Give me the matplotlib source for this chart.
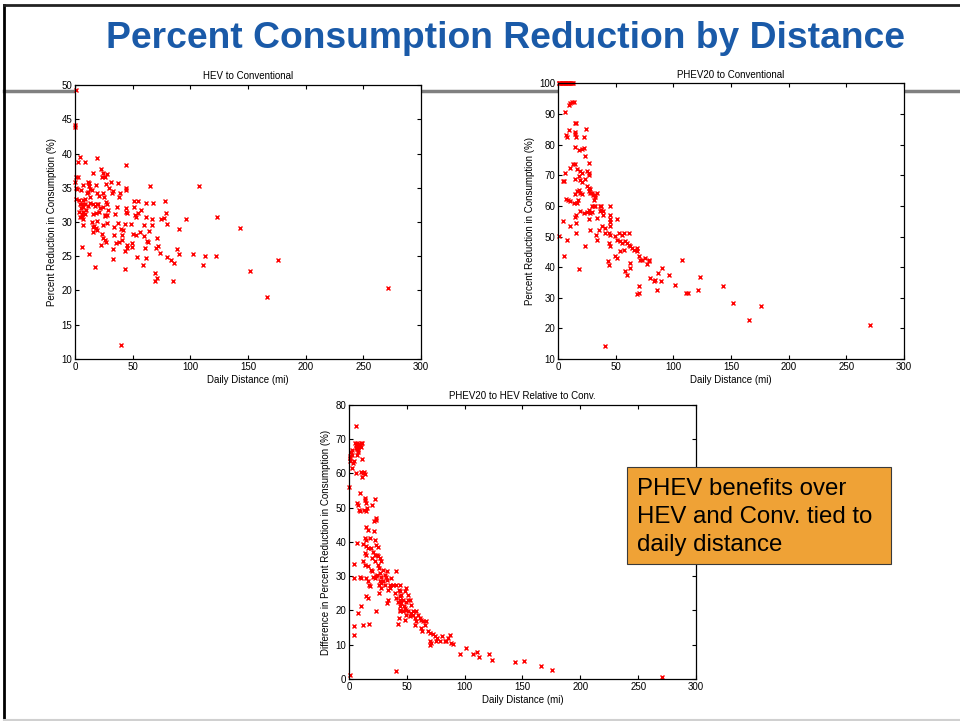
import matplotlib
matplotlib.use('Agg')
import matplotlib.pyplot as plt
from matplotlib.lines import Line2D
from matplotlib.patches import Rectangle

plt.rcParams['font.family'] = ['Liberation Sans', 'DejaVu Sans']

# HEV to Conventional (daily distance in mi, reduction in %)
hev_dist = [0.6, 0, 0, 0.9, 2.3, 0, 0.9, 2.0, 0.9, 2.9, 4.3, 4.9, 3.8, 4.3, 4.9, 3.8, 5.8, 4.3, 5.8, 6.6,
            6.6, 6.1, 7.2, 7.2, 7.2, 6.1, 7.2, 8.7, 8.7, 8.7, 9.5, 8.7, 10.1,
            11.8, 11.6, 12.4, 13.0, 11.6, 13.0, 13.0, 11.6, 14.5, 12.4, 15.3, 15.9, 15.3, 14.5, 15.3, 15.9,
            16.5, 17.3, 18.8, 18.2, 18.8, 18.8, 17.3, 18.2, 18.8, 18.2, 19.4,
            20.2, 21.1, 21.7, 21.1, 22.5, 23.1, 22.5, 23.4, 24.6, 24.6, 25.1, 24.6, 26.0, 26.0, 24.0, 24.6,
            26.0, 26.3, 26.6, 27.5, 26.9, 27.5, 27.5, 26.9, 27.5, 28.9, 29.8,
            30.9, 31.8, 32.7, 32.7, 33.2, 33.8, 33.8, 34.7, 35.5, 36.1, 37.3, 37.6, 37.9, 38.4, 39.0, 40.2,
            39.6, 40.5,
            41.0, 41.9, 43.4, 43.4, 44.2, 44.2, 44.2, 44.2, 44.2, 43.4, 45.4, 44.8, 45.4, 48.3, 49.1, 49.7, 50.6,
            51.2, 51.4, 52.0, 52.9, 52.9, 53.5, 54.3, 54.9, 56.4, 57.5, 58.7, 59.8, 59.8, 60.7, 61.6, 61.6,
            61.6, 62.1, 63.6, 65.0, 64.4, 66.5, 66.8, 67.9, 69.4, 70.2, 69.4,
            70.8, 70.8, 72.3, 73.7, 74.9, 77.2, 78.3, 78.9, 79.5, 79.5, 82.9, 85.3, 85.8, 88.1, 90.5, 90.5,
            96.2, 102.0, 107.5, 110.7, 113.0, 122.0, 123.1, 143.3, 151.4, 166.2, 175.7, 271.1]
hev_red = [49.2, 44.1, 43.8, 36.6, 36.6, 35.9, 35.0, 34.8, 33.3, 38.7, 39.5, 34.6, 33.2, 32.6, 32.1, 31.5, 31.1, 30.8, 30.8, 30.5,
           31.5, 32.7, 33.2, 32.2, 29.6, 26.3, 35.4, 38.7, 33.3, 32.7, 31.8, 31.2, 34.2,
           25.4, 35.9, 35.3, 34.8, 34.4, 33.7, 32.8, 32.3, 34.6, 35.7, 37.1, 32.7, 31.2, 30.0, 29.3, 28.6,
           29.4, 23.5, 39.3, 35.4, 34.2, 32.7, 32.3, 31.3, 30.1, 29.1, 28.8,
           32.7, 33.8, 32.0, 31.5, 37.8, 28.2, 26.6, 36.6, 37.2, 34.2, 33.7, 32.2, 30.9, 31.0, 29.6, 27.7,
           27.4, 36.5, 35.5, 37.0, 32.9, 32.7, 31.0, 27.1, 29.8, 31.8, 34.9,
           35.8, 34.2, 34.5, 26.0, 24.6, 28.1, 29.3, 31.1, 26.9, 32.2, 35.7, 29.9, 33.7, 27.1, 34.2, 12.0,
           29.0, 27.4,
           28.1, 28.9, 25.7, 23.1, 38.3, 34.9, 34.6, 32.0, 31.4, 29.7, 31.3, 26.2, 26.6, 29.7, 27.0, 26.4, 28.3,
           33.0, 32.2, 31.0, 30.8, 28.1, 24.9, 33.0, 31.3, 28.6, 31.8, 23.7, 29.6, 27.9, 26.2, 32.8, 30.7,
           24.7, 27.2, 27.1, 35.2, 28.7, 29.6, 30.5, 32.8, 22.5, 26.2, 21.4,
           27.6, 21.8, 26.5, 25.5, 30.4, 30.6, 33.1, 31.3, 29.7, 24.9, 24.5, 21.4, 24.0, 26.0, 29.0, 25.4,
           30.5, 25.4, 35.2, 23.7, 25.1, 25.1, 30.8, 29.1, 22.9, 19.1, 24.4, 20.3]

# PHEV20 to Conventional
phev_dist = [0.4, 1.1, 1.8, 2.4, 3.2, 3.9, 4.6, 5.3, 6.1, 6.8, 7.5, 8.3, 9.0, 9.7, 10.5, 11.2, 12.0, 12.8,
             0.6, 4.9, 4.3, 4.3, 5.8, 9.8, 10.7, 12.1, 13.6, 6.9, 7.8, 9.8, 14.4, 15.9, 14.4, 15.0, 15.9, 22.2,
             24.2, 15.0, 17.9, 20.8, 22.2, 23.7, 26.5, 10.7, 12.7, 14.4, 16.4, 19.3, 20.8, 17.9, 25.1, 26.5,
             27.1, 15.0, 19.3, 20.8, 23.7, 16.4, 17.9, 19.3, 20.8, 25.1, 26.5, 28.0, 26.5, 28.0, 29.4, 30.0,
             31.7, 33.8, 30.9, 29.4, 30.9, 32.3, 28.0, 26.5, 25.1, 29.4, 32.3, 36.6, 37.5, 38.7, 38.7, 36.6,
             37.5, 33.8, 35.2, 32.9, 33.8, 38.1, 40.4, 41.0, 45.3, 45.3, 45.3, 45.3, 44.7, 43.9, 45.3, 44.4,
             45.3, 43.3, 43.9, 51.1, 49.6, 51.1, 52.5, 55.4, 56.8, 54.0, 55.4, 58.3, 59.7, 49.6, 51.1, 54.0,
             56.8, 61.2, 61.2, 62.6, 64.0, 65.5, 68.4, 62.6, 58.3, 59.7, 69.8, 71.3, 72.7, 75.6, 78.5, 79.0,
             77.0, 68.4, 62.6, 69.8, 70.4, 68.4, 79.9, 82.8, 84.2, 85.7, 87.1, 90.0, 89.4, 95.8, 101.6, 107.3,
             110.8, 112.5, 121.7, 123.2, 143.4, 151.5, 165.9, 175.7, 270.9, 41.0, 7.8, 10.7, 6.3, 4.9, 10.7,
             8.7, 6.9, 15.6, 15.0, 15.9, 15.6, 17.9, 13.6, 16.4, 17.3, 15.0, 19.3, 22.2, 23.1, 26.5, 28.0]
phev_red = [100, 100, 100, 100, 100, 100, 100, 100, 100, 100, 100, 100, 100, 100, 100, 100, 100, 100,
            50.3, 43.5, 55.2, 68.1, 90.7, 92.9, 93.6, 93.8, 94.0, 83.1, 82.6, 84.7, 87.0, 87.0, 84.2, 83.4, 82.6, 82.5,
            85.0, 79.4, 78.3, 78.7, 79.0, 76.3, 73.9, 72.5, 73.8, 73.8, 72.1, 71.4, 70.8, 69.7, 71.4, 70.6,
            70.2, 68.7, 68.4, 67.8, 68.7, 65.0, 65.2, 64.3, 64.0, 66.5, 65.9, 65.4, 64.8, 64.3, 64.3, 63.7,
            63.7, 64.1, 62.1, 59.9, 60.1, 59.9, 57.7, 58.6, 58.0, 58.0, 63.0, 59.9, 58.8, 58.3, 57.2, 58.3,
            60.1, 56.1, 52.1, 50.5, 49.0, 53.4, 52.8, 51.2, 59.9, 56.9, 55.8, 54.7, 53.4, 51.2, 50.6, 47.9,
            46.8, 41.9, 40.8, 55.8, 50.3, 49.0, 51.2, 50.6, 51.2, 48.4, 47.9, 48.4, 47.9, 43.5, 43.0, 45.2,
            45.7, 51.2, 47.4, 46.8, 46.3, 45.7, 46.3, 41.3, 38.6, 37.5, 43.5, 42.4, 42.4, 43.0, 42.4, 41.9,
            41.1, 45.2, 39.7, 33.7, 31.5, 31.2, 36.4, 35.6, 35.9, 32.6, 38.1, 39.7, 35.6, 37.5, 34.3, 42.4,
            31.5, 31.5, 32.6, 36.7, 34.0, 28.2, 22.8, 27.2, 21.1, 14.3, 49.0, 53.4, 70.8, 68.1, 61.6,
            61.8, 62.3, 56.9, 56.4, 54.5, 51.2, 39.5, 61.0, 61.0, 62.1, 64.0, 58.3, 57.7, 46.8, 55.8, 52.3]

# PHEV20 to HEV relative to Conv.
diff_dist = [0.6, 0, 0.6, 0.6, 1.2, 2.0, 2.6, 2.9, 2.6, 3.5, 4.0, 4.9, 5.8, 6.4, 6.9, 7.8, 5.8, 6.9, 7.8, 8.7,
             9.2, 10.1, 10.7, 11.3, 6.4, 7.8, 6.9, 11.5, 10.7, 12.1, 12.7, 13.6, 11.3, 4.0, 4.3, 4.0, 4.0, 6.9,
             9.2, 9.8, 10.7, 10.1, 7.8, 6.9, 7.8, 8.7, 9.8, 12.1, 12.7, 13.6, 13.9, 14.4, 15.0, 15.9, 14.4,
             16.5, 13.6, 15.0, 17.9, 12.1, 14.4, 16.5, 13.6, 15.0, 12.1, 13.6, 16.5, 15.0, 16.5, 17.3, 18.5,
             15.0, 16.5, 17.3, 20.2, 21.4, 23.1, 23.7, 22.2, 21.4, 22.2, 19.3, 20.8, 22.2, 23.7, 25.1, 24.3,
             25.1, 20.2, 22.2, 19.3, 20.2, 20.8, 23.1, 22.2, 24.3, 25.1, 26.0, 26.6, 28.0, 26.6, 28.0, 26.0,
             28.0, 26.0, 23.1, 27.1, 28.0, 29.4, 30.9, 32.3, 29.4, 30.9, 32.9, 32.9, 33.8, 35.2, 35.2, 32.9,
             33.8, 36.7, 38.1, 39.6, 41.0, 42.4, 40.4, 41.0, 43.3, 44.5, 45.3, 46.8, 47.3, 49.1, 49.7, 48.2,
             51.1, 52.5, 54.0, 55.4, 41.0, 42.4, 43.3, 43.9, 43.9, 44.5, 43.9, 44.7, 44.5, 43.9, 46.8, 48.2,
             49.7, 51.1, 48.2, 49.7, 51.1, 52.5, 54.0, 55.4, 56.9, 58.3, 56.9, 58.3, 59.8, 61.2, 62.6, 62.6,
             63.5, 64.1, 65.5, 67.0, 68.4, 69.9, 70.4, 71.3, 69.9, 72.8, 74.2, 75.1, 76.2, 78.5, 80.0, 82.9,
             84.3, 85.7, 87.2, 88.6, 90.1, 95.8, 101.6, 107.4, 110.3, 112.6, 121.3, 123.3, 143.5, 151.3,
             165.7, 175.8, 270.5]
diff_red = [1.3, 56.1, 64.6, 63.5, 65.2, 66.4, 65.4, 66.9, 61.5, 63.0, 63.7, 68.8, 67.4, 68.3, 68.8, 67.8, 60.0, 67.2, 66.9, 68.5,
            68.0, 68.8, 67.8, 68.8, 73.9, 66.4, 65.4, 64.2, 60.4, 60.1, 60.4, 59.8, 59.1, 33.5, 29.6, 15.6, 12.7, 39.8,
            54.2, 29.9, 29.6, 21.2, 19.2, 51.3, 50.8, 49.4, 49.1, 15.8, 49.4, 52.8, 52.3, 51.3, 48.9, 49.9, 44.5,
            43.5, 41.1, 40.6, 41.1, 39.4, 38.7, 38.2, 36.7, 36.3, 34.3, 33.3, 32.9, 29.6, 28.5, 27.5, 27.0,
            24.1, 23.6, 16.0, 50.8, 46.0, 46.5, 46.9, 52.6, 43.1, 40.6, 38.2, 37.2, 36.1, 39.0, 38.4, 36.1,
            35.8, 35.3, 34.3, 31.9, 31.4, 29.9, 30.2, 29.5, 30.4, 33.3, 32.4, 30.9, 29.9, 28.5, 28.0, 27.5,
            26.5, 25.1, 19.9, 35.3, 34.3, 31.9, 30.4, 29.9, 28.5, 27.5, 29.0, 31.4, 26.0, 26.5, 27.5, 22.2,
            23.1, 29.5, 27.5, 25.1, 23.6, 22.6, 27.5, 31.4, 26.0, 27.5, 24.6, 23.1, 21.2, 22.6, 26.5, 25.6,
            24.6, 23.1, 21.7, 19.7, 2.2, 16.0, 17.8, 19.7, 25.6, 24.1, 23.1, 22.2, 21.2, 20.2, 19.7, 20.7,
            20.2, 23.1, 17.3, 18.8, 19.7, 18.3, 19.2, 18.8, 17.8, 16.8, 15.8, 19.7, 18.8, 17.8, 17.3, 14.9,
            14.1, 16.8, 15.8, 16.8, 13.9, 13.4, 10.0, 10.5, 11.0, 13.1, 12.4, 11.2, 12.0, 11.0, 12.4, 11.0,
            11.2, 12.1, 12.7, 10.5, 10.2, 7.3, 9.0, 7.3, 7.9, 6.3, 7.3, 5.6, 5.0, 5.2,
            3.7, 2.5, 0.7]

fig = plt.figure(figsize=(9.6, 7.21), dpi=100)

# slide frame and header rule
fig.add_artist(Line2D([0.0042, 1.0], [1 - 91 / 721, 1 - 91 / 721], color='#808080', lw=2.5, zorder=-1))
fig.add_artist(Line2D([0.0042, 0.0042], [0, 0.993], color='black', lw=2))
fig.add_artist(Line2D([0.0042, 1.0], [0.993, 0.993], color='#222222', lw=2))
fig.add_artist(Line2D([0.0042, 1.0], [0.001, 0.001], color='#d0d0d0', lw=1.5))

fig.text(0.527, 0.946, 'Percent Consumption Reduction by Distance', ha='center', va='center',
         fontsize=26.8, fontweight='bold', color='#1a5aa8')


def scatter_panel(rect, xs, ys, title, ylabel, ylim, ystep):
    ax = fig.add_axes(rect)
    ax.plot(xs, ys, 'x', color='red', markersize=3.5, markeredgewidth=1, clip_on=False)
    ax.set_xlim(0, 300)
    ax.set_ylim(*ylim)
    ax.set_xticks(range(0, 301, 50))
    ax.set_yticks(range(ylim[0], ylim[1] + 1, ystep))
    ax.tick_params(direction='in', top=True, right=True, length=3, width=0.8, labelsize=7, pad=2)
    for s in ax.spines.values():
        s.set_linewidth(0.9)
    ax.set_title(title, fontsize=7, pad=4)
    ax.set_xlabel('Daily Distance (mi)', fontsize=7, labelpad=2)
    ax.set_ylabel(ylabel, fontsize=7, labelpad=3)
    return ax


scatter_panel([0.0781, 0.5021, 0.3604, 0.380], hev_dist, hev_red,
              'HEV to Conventional', 'Percent Reduction in Consumption (%)', (10, 50), 5)
scatter_panel([0.5813, 0.5021, 0.3604, 0.3821], phev_dist, phev_red,
              'PHEV20 to Conventional', 'Percent Reduction in Consumption (%)', (10, 100), 10)
scatter_panel([0.3635, 0.0583, 0.3615, 0.380], diff_dist, diff_red,
              'PHEV20 to HEV Relative to Conv.', 'Difference in Percent Reduction in Consumption (%)', (0, 80), 10)

# callout box
fig.add_artist(Rectangle((627 / 960, 1 - 564 / 721), 264 / 960, 97 / 721, transform=fig.transFigure,
                         facecolor='#efa236', edgecolor='#3a3a3a', lw=0.8, zorder=5))
fig.text(637 / 960, 1 - 478 / 721, 'PHEV benefits over\nHEV and Conv. tied to\ndaily distance',
         ha='left', va='top', fontsize=17.3, linespacing=1.36, color='black', zorder=6)

plt.savefig('out.png', dpi=100)
